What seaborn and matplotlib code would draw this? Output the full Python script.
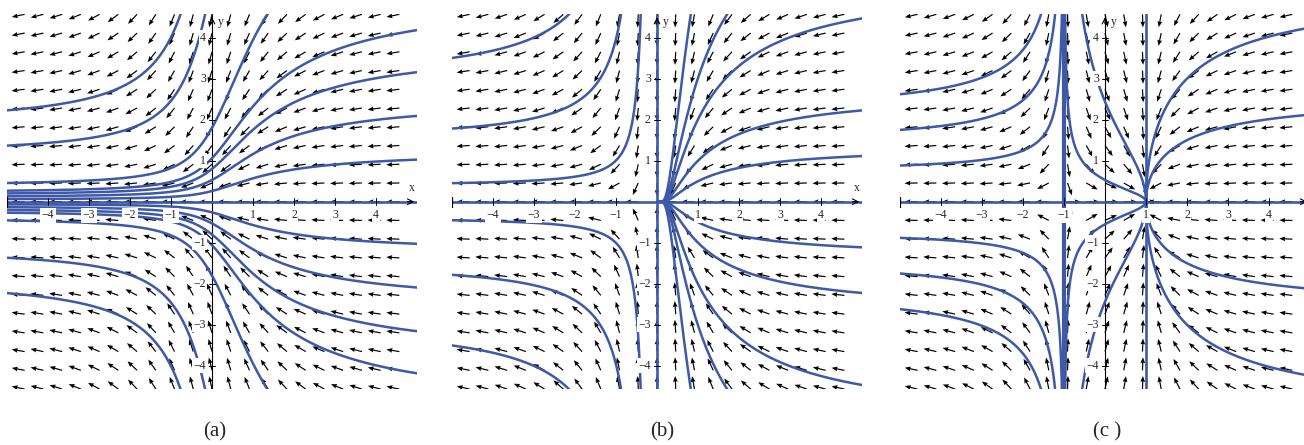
import numpy as np
import pandas as pd
import matplotlib
matplotlib.use("Agg")
import matplotlib.pyplot as plt
import seaborn as sns

sns.set_style("white")
plt.rcParams["font.family"] = ["Liberation Serif", "DejaVu Serif"]

# Plot window, field grid and axis ticks
X_LIM = (-5.0, 5.0)
Y_LIM = (-4.57, 4.57)
GRID_N = 21
ARROW_LEN = 0.32
TICKS = [-4, -3, -2, -1, 1, 2, 3, 4]
CAPTIONS = ["(a)", "(b)", "(c )"]

# Integration constants of the drawn solution curves
# (a)  y' = y/(x^2+1)  ->  y = C e^{arctan x}
A_CONST = [0.26, 0.53, 0.8, 1.06, 1.8, 5.4, 8.8]
# (b)  y' = y/x^2      ->  y = C e^{-1/x}
B_LEFT = [0.37, 1.46, 2.87]
B_RIGHT = [1.36, 2.72, 5.46, 8.2, 15.4]
# (c)  y' = y/(x^2-1)  ->  y = C sqrt|(x-1)/(x+1)|
C_LEFT = [0.72, 1.43, 2.14]
C_MID = [0.53, 2.44, -0.55, -2.44]
C_RIGHT = [2.6, 5.2]

BLUE = "#3d59a8"
W, H, DPI = 1304, 445, 100
PX = 41.0          # pixels per unit
ORIGIN_Y = 201.7   # pixel row of y = 0
PANEL_LEFT = [7.0, 452.0, 900.0]
CAPTION_X = [215, 662, 1107]
SHOW_X_NAME = [True, True, False]


def sol_a(x, c):
    return c * np.exp(np.arctan(x))


def sol_b(x, c):
    with np.errstate(over="ignore", divide="ignore"):
        return c * np.exp(-1.0 / x)


def sol_c(x, c):
    with np.errstate(divide="ignore", invalid="ignore"):
        return c * np.sqrt(np.abs((x - 1.0) / (x + 1.0)))


def field_a(x, y):
    return -(1 + x ** 2), -y


def field_b(x, y):
    return -(x ** 2), -y


def field_c(x, y):
    return 1 - x ** 2, -y


def curves_frame(pieces):
    rows = []
    for seg, (fn, c, xs) in enumerate(pieces):
        ys = fn(xs, c)
        keep = np.isfinite(ys) & (np.abs(ys) < 7)
        rows.append(pd.DataFrame({"x": xs[keep], "y": ys[keep], "seg": seg}))
    return pd.concat(rows, ignore_index=True)


xs_full = np.linspace(-5, 5, 800)
xs_b_right = np.concatenate([np.geomspace(0.02, 1, 300), np.linspace(1, 5, 200)[1:]])
xs_b_left = -np.geomspace(0.05, 5, 600)[::-1]
xs_c_left = -1 - np.geomspace(1e-5, 4, 500)[::-1]
xs_c_mid = np.unique(np.concatenate([-1 + np.geomspace(1e-5, 1, 300), 1 - np.geomspace(1e-7, 1, 300)]))
xs_c_right = 1 + np.geomspace(1e-7, 4, 500)

pieces_a = [(sol_a, s * c, xs_full) for c in A_CONST for s in (1, -1)]
pieces_b = ([(sol_b, s * c, xs_b_left) for c in B_LEFT for s in (1, -1)]
            + [(sol_b, s * c, xs_b_right) for c in B_RIGHT for s in (1, -1)])
pieces_c = ([(sol_c, s * c, xs_c_left) for c in C_LEFT for s in (1, -1)]
            + [(sol_c, c, xs_c_mid) for c in C_MID]
            + [(sol_c, s * c, xs_c_right) for c in C_RIGHT for s in (1, -1)])

panels = [
    dict(field=field_a, pieces=pieces_a, blue_v=[], black_y=True),
    dict(field=field_b, pieces=pieces_b, blue_v=[0.0], black_y=False),
    dict(field=field_c, pieces=pieces_c, blue_v=[-1.0, 1.0], black_y=True),
]

fig = plt.figure(figsize=(W / DPI, H / DPI), dpi=DPI)
fig.patch.set_facecolor("white")

label_box = dict(boxstyle="square,pad=0.12", fc="white", ec="none")
grid = np.linspace(Y_LIM[0], Y_LIM[1], GRID_N)
GX, GY = np.meshgrid(grid, grid)

for i, p in enumerate(panels):
    width_px = (X_LIM[1] - X_LIM[0]) * PX
    height_px = (Y_LIM[1] - Y_LIM[0]) * PX
    top_px = ORIGIN_Y - Y_LIM[1] * PX
    ax = fig.add_axes([PANEL_LEFT[i] / W, 1 - (top_px + height_px) / H,
                       width_px / W, height_px / H])
    ax.set_xlim(*X_LIM)
    ax.set_ylim(*Y_LIM)
    ax.axis("off")

    # direction field
    U, V = p["field"](GX, GY)
    n = np.hypot(U, V)
    m = n > 0
    ax.quiver(GX[m], GY[m], ARROW_LEN * U[m] / n[m], ARROW_LEN * V[m] / n[m],
              angles="xy", scale_units="xy", scale=1, pivot="tail",
              width=0.0029, headwidth=4, headlength=5, headaxislength=4.5,
              color="black", zorder=2)

    # coordinate axes
    if p["black_y"]:
        ax.plot([0, 0], [Y_LIM[0], Y_LIM[1]], color="black", lw=0.8, zorder=2.5)
    ax.annotate("", xy=(0, Y_LIM[1]), xytext=(0, Y_LIM[1] - 0.3),
                arrowprops=dict(arrowstyle="->", color="black", lw=0.8), zorder=4)
    ax.annotate("", xy=(5.0, 0), xytext=(4.7, 0),
                arrowprops=dict(arrowstyle="->", color="black", lw=0.8), zorder=4)
    ax.plot([-5, -5], [-0.12, 0.12], color="black", lw=0.9, zorder=4)
    for k in TICKS:
        ax.plot([k, k], [-0.08, 0.08], color="black", lw=0.7, zorder=4)
        ax.plot([-0.08, 0.08], [k, k], color="black", lw=0.7, zorder=4)

    # solution curves
    df = curves_frame(p["pieces"])
    sns.lineplot(data=df, x="x", y="y", units="seg", estimator=None,
                 color=BLUE, linewidth=1.8, ax=ax, zorder=3)
    ax.plot([X_LIM[0], X_LIM[1]], [0, 0], color=BLUE, lw=1.9, zorder=3)
    for xv in p["blue_v"]:
        ax.plot([xv, xv], [Y_LIM[0], Y_LIM[1]], color=BLUE,
                lw=3.0 if xv == -1.0 else 1.9, zorder=3)
    ax.set_xlim(*X_LIM)
    ax.set_ylim(*Y_LIM)
    ax.axis("off")

    # tick labels
    for k in TICKS:
        lab = str(k).replace("-", "\u2212")
        ax.text(k, -0.33, lab, ha="center", va="center", fontsize=8.5,
                bbox=label_box, zorder=5)
        ax.text(-0.15, k, lab, ha="right", va="center", fontsize=8.5,
                bbox=label_box, zorder=5)
    if SHOW_X_NAME[i]:
        ax.text(4.88, 0.33, "x", ha="center", va="center", fontsize=8.5, zorder=5)
    ax.text(0.15, 4.38, "y", ha="left", va="center", fontsize=8.5, zorder=5)

    fig.text(CAPTION_X[i] / W, 1 - 432 / H, CAPTIONS[i], ha="center", va="center",
             fontsize=15)

fig.savefig("out.png", dpi=DPI)
